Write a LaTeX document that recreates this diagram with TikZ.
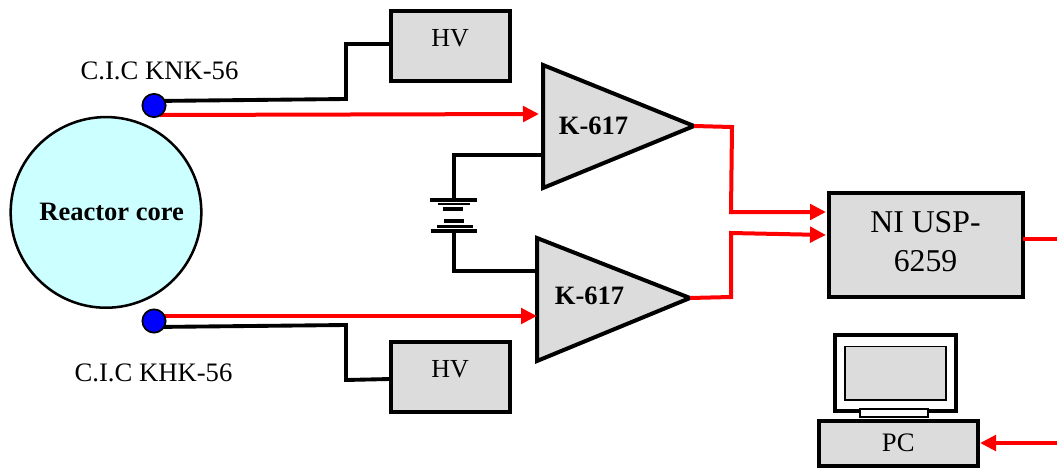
\documentclass[tikz,border=0pt]{standalone}
\usepackage{fontspec}
\setmainfont{Liberation Serif}
\usetikzlibrary{arrows.meta}
\definecolor{boxgray}{HTML}{DCDCDC}
\definecolor{corecyan}{HTML}{CCFFFF}
\newcommand{\uptext}[2]{\raisebox{0pt}[\height][#1]{#2}}
\tikzset{
  x=0.75pt,y=-0.75pt,
  boxnode/.style={draw=black,line width=3pt,fill=boxgray,rectangle,inner sep=0pt,outer sep=0pt,anchor=north west,align=center},
  blackwire/.style={draw=black,line width=2.9pt,line join=miter},
  redwire/.style={draw=red,line width=3pt},
  redarrow/.style={redwire,-{Triangle[length=12pt,width=11.5pt]}},
  amp/.style={draw=black,line width=3pt,fill=boxgray,line join=miter},
  sensor/.style={circle,draw=black,line width=1.3pt,fill=blue,minimum size=17.5pt,inner sep=0pt},
  lbl/.style={font=\fontsize{20pt}{24pt}\selectfont,inner sep=0pt},
  blbl/.style={font=\fontsize{19.9pt}{24pt}\selectfont\bfseries,inner sep=0pt},
}
\begin{document}
\begin{tikzpicture}
\useasboundingbox (0,0) rectangle (1057,468);
% reactor core
\node[circle,draw=black,line width=1.9pt,fill=corecyan,minimum size=143pt,inner sep=0pt,outer sep=0pt,blbl] (core) at (106,212.4) {\hspace{8.5pt}Reactor core};
% boxes
\node[boxnode,minimum width=89.6pt,minimum height=52.5pt,font=\fontsize{19.5pt}{23pt}\selectfont] (hvtop) at (390.5,11) {\uptext{12pt}{HV}};
\node[boxnode,minimum width=89.6pt,minimum height=52.5pt,font=\fontsize{19.5pt}{23pt}\selectfont] (hvbot) at (390.5,342) {\uptext{12pt}{HV}};
\node[boxnode,minimum width=145.5pt,minimum height=78.4pt,font=\fontsize{23.8pt}{29pt}\selectfont] (ni) at (828.5,192.5) {NI USP-\\6259\rule[-5pt]{0pt}{5pt}};
% computer
\node[draw=black,line width=3pt,fill=white,rectangle,inner sep=0pt,outer sep=0pt,minimum width=91.1pt,minimum height=57pt,anchor=north west] (monitor) at (834.5,335) {};
\node[draw=black,line width=1.2pt,fill=boxgray,rectangle,inner sep=0pt,outer sep=0pt,minimum width=75.8pt,minimum height=40pt] (screen) at (895.5,373.2) {};
\node[draw=black,line width=1.1pt,fill=white,rectangle,inner sep=0pt,outer sep=0pt,minimum width=51pt,minimum height=6pt] (stand) at (894,413) {};
\node[boxnode,minimum width=119.6pt,minimum height=33.8pt,font=\fontsize{20pt}{23pt}\selectfont] (pc) at (818.5,421) {\uptext{2pt}{PC}};
% amplifiers
\coordinate (a1a) at (543,65); \coordinate (a1b) at (543,188); \coordinate (a1tip) at (694,126);
\coordinate (a2a) at (537,238); \coordinate (a2b) at (537,361); \coordinate (a2tip) at (690,298);
\draw[amp] (a1a) -- (a1tip) -- (a1b) -- cycle;
\draw[amp] (a2a) -- (a2tip) -- (a2b) -- cycle;
\node[blbl] (k1) at (593.5,126) {K-617};
\node[blbl] (k2) at (589.5,296) {K-617};
% labels
\node[lbl] (lknk) at (159.5,71) {C.I.C KNK-56};
\node[lbl] (lkhk) at (153.5,373) {C.I.C KHK-56};
% way points
\coordinate (s1b) at (154,101); \coordinate (t1a) at (346,99); \coordinate (t1b) at (346,44); \coordinate (t1c) at (390,44);
\coordinate (s2b) at (154,327); \coordinate (t2a) at (346,325); \coordinate (t2b) at (346,380); \coordinate (t2c) at (390,379);
\coordinate (bt1) at (543,155); \coordinate (bt2) at (454,155); \coordinate (bt3) at (454,200);
\coordinate (bb1) at (537,271); \coordinate (bb2) at (454,271); \coordinate (bb3) at (454,231);
% black wires
\draw[blackwire] (s1b) -- (t1a) -- (t1b) -- (t1c);
\draw[blackwire] (s2b) -- (t2a) -- (t2b) -- (t2c);
\draw[blackwire] (bt1) -- (bt2) -- (bt3);
\draw[blackwire] (bb1) -- (bb2) -- (bb3);
% battery
\foreach \n/\xa/\xb/\yy/\w in {p1/430/477/200/3.2pt,p2/438/470/204/2.2pt,p3/443/463/209/3.2pt,p4/444/464/221/3.2pt,p5/437/473/226.5/2.2pt,p6/431/477/231/3.2pt}{
  \draw[draw=black,line width=\w] (\xa,\yy) -- (\xb,\yy);
}
% red wires
\coordinate (r1s) at (160,115); \coordinate (r1e) at (539,114);
\coordinate (r2s) at (160,316); \coordinate (r2e) at (537,316);
\draw[redarrow] (r1s) -- (r1e);
\draw[redarrow] (r2s) -- (r2e);
\coordinate (o1a) at (732,127); \coordinate (o1b) at (731,212); \coordinate (ni1) at (826,212);
\coordinate (o2a) at (731,297); \coordinate (o2b) at (731,233); \coordinate (ni2) at (826,235);
\draw[redarrow] (a1tip) -- (o1a) -- (o1b) -- (ni1);
\draw[redarrow] (a2tip) -- (o2a) -- (o2b) -- (ni2);
\coordinate (niout) at (1057,239);
\draw[redwire] (ni.east |- niout) -- (niout);
\coordinate (pcin) at (1057,443);
\coordinate (pcport) at (980,443);
\draw[redarrow] (pcin) -- (pcport);
% sensors
\node[sensor] (s1) at (154,105.5) {};
\node[sensor] (s2) at (154,321) {};
\end{tikzpicture}
\end{document}
